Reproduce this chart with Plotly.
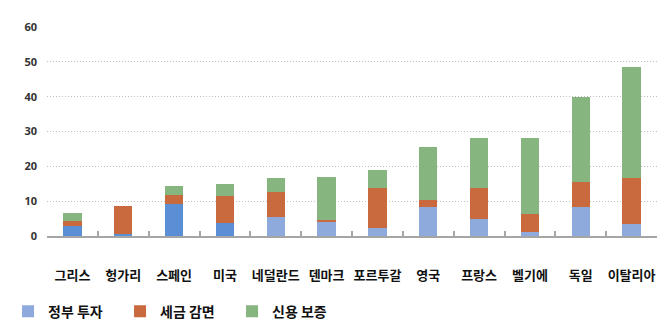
import plotly.graph_objects as go

countries = ["그리스", "헝가리", "스페인", "미국", "네덜란드", "덴마크",
             "포르투갈", "영국", "프랑스", "벨기에", "독일", "이탈리아"]
gov_invest = [3.0, 0.5, 9.1, 3.6, 5.4, 4.2, 2.3, 8.3, 5.0, 1.2, 8.3, 3.4]
tax_relief = [1.3, 8.2, 2.7, 8.0, 7.3, 0.5, 11.4, 2.0, 8.9, 5.1, 7.2, 13.2]
credit_guar = [2.2, 0.0, 2.6, 3.3, 4.0, 12.2, 5.2, 15.3, 14.1, 21.7, 24.3, 32.0]
series_names = ["정부 투자", "세금 감면", "신용 보증"]
y_ticks = [0, 10, 20, 30, 40, 50, 60]

BLUE_DEEP = "#5B8FD5"
BLUE = "#8EAADC"
ORANGE = "#C96A3E"
GREEN = "#87B580"
# first four countries use a deeper blue for the investment segment
blue_colors = [BLUE_DEEP] * 4 + [BLUE] * 8

FONT = "Noto Sans CJK KR"

fig = go.Figure()
for vals, col in [(gov_invest, blue_colors), (tax_relief, ORANGE), (credit_guar, GREEN)]:
    fig.add_bar(x=countries, y=vals, showlegend=False,
                marker=dict(color=col, line=dict(width=0)))

# legend entries with a single swatch colour each
for name, col in zip(series_names, [BLUE, ORANGE, GREEN]):
    fig.add_bar(x=[None], y=[None], name=name,
                marker=dict(color=col, line=dict(width=0)))

fig.update_layout(
    barmode="stack",
    bargap=0.64,
    width=670, height=322,
    margin=dict(l=47, r=13, t=27, b=86, autoexpand=False),
    plot_bgcolor="white",
    paper_bgcolor="white",
    font=dict(family=FONT, color="#111111"),
    showlegend=True,
    legend=dict(
        orientation="h",
        xref="container", yref="paper",
        x=0.012, y=-0.362, xanchor="left", yanchor="middle",
        font=dict(family=FONT, size=14, color="#111111", weight="bold"),
        entrywidth=67, entrywidthmode="pixels",
        traceorder="normal",
        itemclick=False,
    ),
)

fig.update_xaxes(
    automargin=False,
    tickangle=0,
    showline=True, linecolor="#A6A6A6", linewidth=1.5,
    ticks="inside", tickson="boundaries", ticklen=5,
    tickcolor="#A6A6A6", tickwidth=1.5,
    ticklabelstandoff=27,
    tickfont=dict(family=FONT, size=13, color="#111111", weight="bold"),
    showgrid=False,
)
fig.update_yaxes(
    automargin=False,
    range=[0, 60], tickvals=y_ticks,
    showgrid=True, gridcolor="#BFBFBF", griddash="1px,2px", gridwidth=1,
    zeroline=False, showline=False,
    tickfont=dict(family="Open Sans", size=11, color="#333333", weight="bold"),
    ticklabelstandoff=9,
)

fig.write_html("out.html")
